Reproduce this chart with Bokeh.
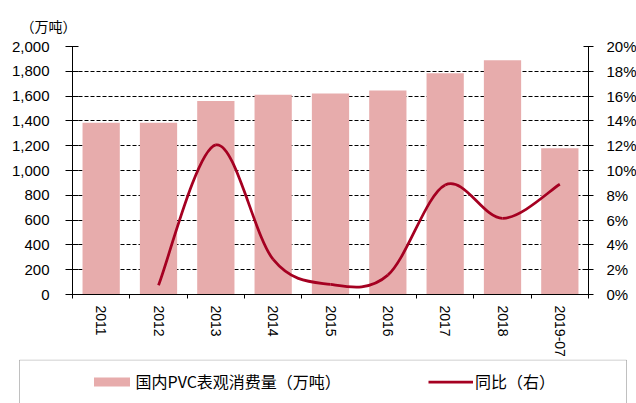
import math
from bokeh.plotting import figure
from bokeh.layouts import column
from bokeh.models import (Range1d, LinearAxis, FixedTicker, NumeralTickFormatter,
                          PrintfTickFormatter, Legend, LegendItem, BoxAnnotation)
from bokeh.embed import file_html
from bokeh.resources import INLINE

# ---------------- data ----------------
categories = ["2011", "2012", "2013", "2014", "2015", "2016", "2017", "2018", "2019-07"]
consumption = [1386, 1386, 1561, 1610, 1620, 1645, 1785, 1890, 1179]          # 万吨
yoy_pct = [None, 0.75, 12.06, 2.83, 0.81, 1.56, 8.83, 6.14, 8.89]             # %
left_ticks = [0, 200, 400, 600, 800, 1000, 1200, 1400, 1600, 1800, 2000]
right_ticks = [0, 2, 4, 6, 8, 10, 12, 14, 16, 18, 20]
bar_label = "国内PVC表观消费量（万吨）"
line_label = "同比（右）"
unit_label = "（万吨）"

BAR_COLOR = "#E7ACAC"
LINE_COLOR = "#A50021"
CJK = "Noto Sans CJK SC"
LAT = "Liberation Sans"

n = len(categories)
centers = [i + 0.5 for i in range(n)]
bounds = [float(i) for i in range(n + 1)]
line_x = [c for c, v in zip(centers, yoy_pct) if v is not None]
line_y = [v for v in yoy_pct if v is not None]

p = figure(frame_width=516, frame_height=248,
           x_range=Range1d(0, n), y_range=Range1d(0, 2000),
           output_backend="svg", toolbar_location=None,
           min_border_left=72, min_border_right=48, min_border_top=46, min_border_bottom=64)
p.outline_line_color = None
try:
    p.frame_align = False
except Exception:
    pass

# unit label as title
p.title.text = unit_label
p.title.align = "left"
p.title.offset = -52
p.title.standoff = 22
p.title.text_font = CJK
p.title.text_font_size = "14px"
p.title.text_font_style = "normal"
p.title.text_color = "black"

# x axis: labels at category centres, ticks at category boundaries
xa = p.xaxis[0]
xa.ticker = FixedTicker(ticks=centers, minor_ticks=bounds)
xa.major_label_overrides = {c: lab for c, lab in zip(centers, categories)}
xa.major_tick_in = 0
xa.major_tick_out = 0
xa.minor_tick_in = 0
xa.minor_tick_out = 4
xa.minor_tick_line_color = "black"
xa.axis_line_color = "black"
xa.major_label_orientation = "vertical"
xa.major_label_standoff = 7
xa.major_label_text_font = LAT
xa.major_label_text_font_size = "14px"
xa.major_label_text_color = "black"

# left y axis
ya = p.yaxis[0]
ya.ticker = FixedTicker(ticks=left_ticks)
ya.formatter = NumeralTickFormatter(format="0,0")
ya.major_tick_in = 6
ya.major_tick_out = 7
ya.minor_tick_out = 0
ya.minor_tick_in = 0
ya.axis_line_color = "black"
ya.major_tick_line_color = "black"
ya.major_label_standoff = 16
ya.major_label_text_font = LAT
ya.major_label_text_font_size = "15px"
ya.major_label_text_color = "black"

# right y axis
p.extra_y_ranges = {"pct": Range1d(0, 20)}
ra = LinearAxis(y_range_name="pct", ticker=FixedTicker(ticks=right_ticks),
                formatter=PrintfTickFormatter(format="%d%%"))
ra.major_tick_in = 5
ra.major_tick_out = 5
ra.minor_tick_out = 0
ra.minor_tick_in = 0
ra.axis_line_color = "black"
ra.major_tick_line_color = "black"
ra.major_label_standoff = 13
ra.major_label_text_font = LAT
ra.major_label_text_font_size = "15px"
ra.major_label_text_color = "black"
p.add_layout(ra, "right")

# grid
p.xgrid.visible = False
p.ygrid.grid_line_color = "black"
p.ygrid.grid_line_dash = "4 2"
p.ygrid.grid_line_width = 1

# bars
bars = p.vbar(x=centers, top=consumption, width=0.65, fill_color=BAR_COLOR, line_color=None)

# smoothed yoy line (cubic Bezier segments through the data points)
pts = list(zip(line_x, line_y))
x0, y0, x1, y1, cx0, cy0, cx1, cy1 = [], [], [], [], [], [], [], []
for k in range(len(pts) - 1):
    pa = pts[k - 1] if k > 0 else pts[k]
    pb, pc = pts[k], pts[k + 1]
    pd = pts[k + 2] if k + 2 < len(pts) else pts[k + 1]
    x0.append(pb[0]); y0.append(pb[1]); x1.append(pc[0]); y1.append(pc[1])
    cx0.append(pb[0] + (pc[0] - pa[0]) / 6); cy0.append(pb[1] + (pc[1] - pa[1]) / 6)
    cx1.append(pc[0] - (pd[0] - pb[0]) / 6); cy1.append(pc[1] - (pd[1] - pb[1]) / 6)
curve = p.bezier(x0=x0, y0=y0, x1=x1, y1=y1, cx0=cx0, cy0=cy0, cx1=cx1, cy1=cy1,
                 y_range_name="pct", line_color=LINE_COLOR, line_width=2.75)

# ---------------- legend strip ----------------
p2 = figure(width=636, height=45, x_range=Range1d(-1, 608), y_range=Range1d(-44.5, 0.5),
            output_backend="svg", toolbar_location=None,
            min_border_left=18, min_border_right=9, min_border_top=0, min_border_bottom=0)
p2.outline_line_color = None
p2.axis.visible = False
p2.grid.visible = False
try:
    p2.frame_align = False
except Exception:
    pass

box = BoxAnnotation(left=0, right=607, top=0, bottom=-200,
                    fill_color=None, fill_alpha=0, line_color="#303030", line_width=1)
p2.add_layout(box)

# hidden copies of the series, used only as legend entries
leg_bar = p2.vbar(x=centers, top=consumption, width=0.65, fill_color=BAR_COLOR,
                  line_color=None, visible=False)
leg_line = p2.line(x=line_x, y=line_y, line_color=LINE_COLOR, line_width=2.75, visible=False)

legend = Legend(items=[LegendItem(label=bar_label, renderers=[leg_bar]),
                       LegendItem(label=line_label, renderers=[leg_line])],
                orientation="horizontal", location=(70.5, 11), padding=0, spacing=87,
                glyph_width=45, glyph_height=11, label_standoff=2,
                label_text_font=CJK, label_text_font_size="16px", label_text_color="black",
                border_line_color=None, background_fill_alpha=0,
                inactive_fill_alpha=0)
p2.add_layout(legend)

layout = column(p, p2, spacing=0)
open("out.html", "w").write(file_html(layout, INLINE))
